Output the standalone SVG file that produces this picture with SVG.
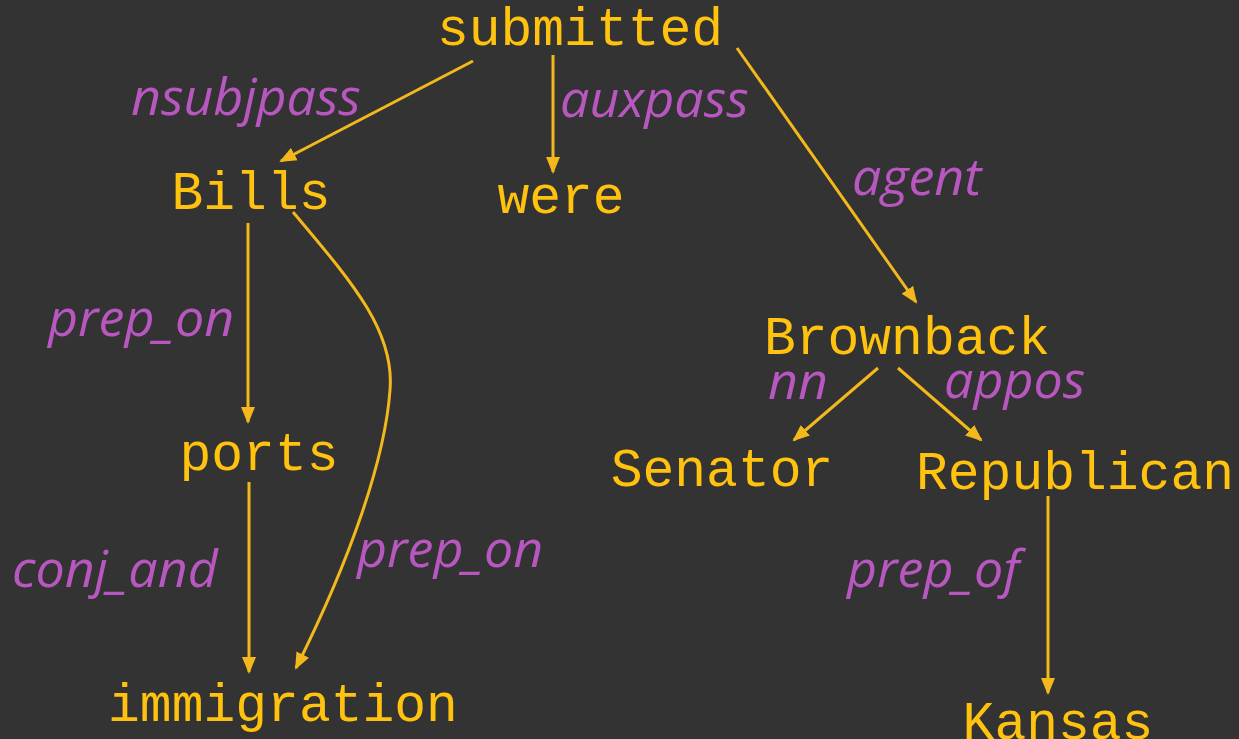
<svg xmlns="http://www.w3.org/2000/svg" width="1239" height="739" viewBox="0 0 1239 739">
<defs>
<style>
.node{font-family:"Liberation Mono","Courier New",monospace;font-size:53px;fill:#FFC20E;text-anchor:middle}
.lbl{font-family:"Open Sans","Noto Sans",sans-serif;font-style:italic;font-size:52px;fill:#B857BF}
.edge{fill:none;stroke:#F2B81C;stroke-width:3}
</style>
<marker id="arr" markerUnits="userSpaceOnUse" markerWidth="18" markerHeight="16" refX="15" refY="7" orient="auto" viewBox="0 0 18 14">
<path d="M0,0 L17,7 L0,14 z" fill="#F2B81C"/>
</marker>
</defs>
<rect width="1239" height="739" fill="#333333"/>
<g id="connectors">
<path class="edge" marker-end="url(#arr)" d="M473,61 L281,161"/>
<path class="edge" marker-end="url(#arr)" d="M553,55 L553,172"/>
<path class="edge" marker-end="url(#arr)" d="M737,48 L916,302"/>
<path class="edge" marker-end="url(#arr)" d="M248,223 L248,422"/>
<path class="edge" marker-end="url(#arr)" d="M293,212 C350,280 395,330 390,390 C385,460 350,560 296,668"/>
<path class="edge" marker-end="url(#arr)" d="M249,482 L249,672"/>
<path class="edge" marker-end="url(#arr)" d="M878,368 L794,440"/>
<path class="edge" marker-end="url(#arr)" d="M898,368 L981,440"/>
<path class="edge" marker-end="url(#arr)" d="M1048,496 L1048,693"/>
</g>
<g id="labels">
<text class="lbl" x="131" y="115">nsubjpass</text>
<text class="lbl" x="560" y="117">auxpass</text>
<text class="lbl" x="852" y="195">agent</text>
<text class="lbl" x="48" y="336">prep_on</text>
<text class="lbl" x="357" y="567">prep_on</text>
<text class="lbl" x="12" y="587">conj_and</text>
<text class="lbl" x="768" y="399">nn</text>
<text class="lbl" x="944" y="398">appos</text>
<text class="lbl" x="847" y="587">prep_of</text>
</g>
<g id="n-submitted"><text class="node" x="580" y="45">submitted</text></g>
<g id="n-bills"><text class="node" x="251" y="209">Bills</text></g>
<g id="n-were"><text class="node" x="561" y="213">were</text></g>
<g id="n-brownback"><text class="node" x="907" y="354">Brownback</text></g>
<g id="n-ports"><text class="node" x="259" y="470">ports</text></g>
<g id="n-senator"><text class="node" x="722" y="486">Senator</text></g>
<g id="n-republican"><text class="node" x="1075" y="489">Republican</text></g>
<g id="n-immigration"><text class="node" x="283" y="721">immigration</text></g>
<g id="n-kansas"><text class="node" x="1058" y="739">Kansas</text></g>
</svg>
